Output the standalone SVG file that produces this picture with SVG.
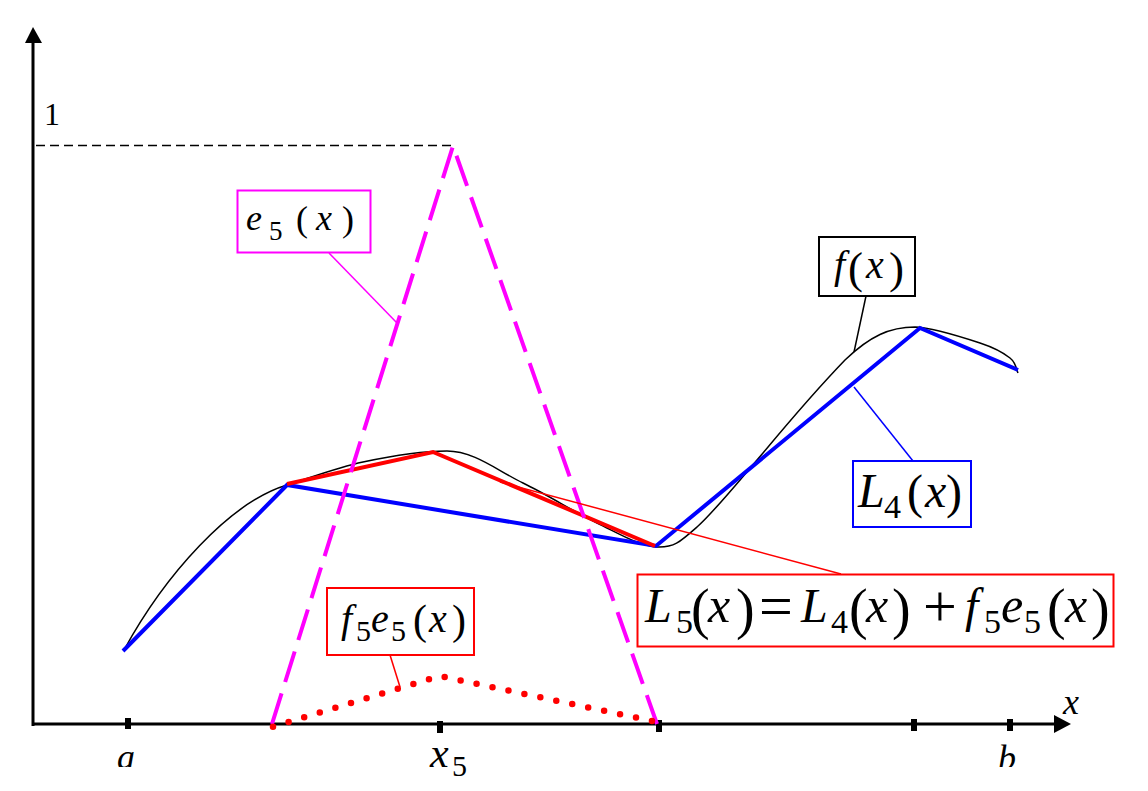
<svg xmlns="http://www.w3.org/2000/svg" width="1148" height="791" viewBox="0 0 1148 791">
<style>
.i{font-style:italic}
.box{fill:#fff;stroke-width:2}
.lead{fill:none;stroke-width:1.5}
.thick{fill:none;stroke-width:4;stroke-linejoin:miter}
</style>
<defs>
<clipPath id="clipAB"><rect x="0" y="0" width="1148" height="767"/></clipPath>
</defs>
<rect width="1148" height="791" fill="#fff"/>
<g font-family="Liberation Serif, Times New Roman, serif" fill="#000">
<g id="axes">
<line x1="33" y1="726" x2="33" y2="40" stroke="#000" stroke-width="3"/>
<polygon points="33,27 25,43 42,43" fill="#000"/>
<line x1="32" y1="724" x2="1058" y2="724" stroke="#000" stroke-width="3"/>
<polygon points="1071,724 1054,715 1054,733" fill="#000"/>
<rect x="125" y="718" width="6" height="11" fill="#000"/>
<rect x="437" y="721" width="6" height="12" fill="#000"/>
<rect x="656" y="720" width="6" height="12" fill="#000"/>
<rect x="911" y="719" width="6" height="12" fill="#000"/>
<rect x="1007" y="719" width="6" height="12" fill="#000"/>
<line x1="36" y1="145.5" x2="453" y2="145.5" stroke="#000" stroke-width="1.5" stroke-dasharray="9 5"/>
<text x="44" y="125" font-size="32">1</text>
<text class="i" x="117" y="769" font-size="36" clip-path="url(#clipAB)">a</text>
<text x="430" y="767" font-size="42"><tspan class="i">x</tspan><tspan x="452" y="776" font-size="30">5</tspan></text>
<text class="i" x="998" y="770" font-size="36" clip-path="url(#clipAB)">b</text>
<text class="i" x="1063" y="714" font-size="36">x</text>
</g>
<g id="f-curve">
<path d="M124,650 C165,575 230,502 287,485 C307,479 336.3,467.7 363,462 C389.7,456.3 420,451 447,451 C474,451 498,471 523,483 C548,495 574.7,512.3 597,523 C619.3,533.7 640.3,546.3 657,547 C673.7,547.7 679.3,542.7 697,527 C714.7,511.3 740.8,478.7 763,453 C783,429 818,388 845,360 C870,336 890,327 915,327 C931.7,327.5 964.2,337.8 980,343 C995.8,348.2 1003.7,353 1010,358 C1016.3,363 1016.7,370.5 1018,373" fill="none" stroke="#000" stroke-width="1.5"/>
</g>
<g id="L4-line">
<polyline class="thick" points="123,651 287,485 656,546 920,328 1018,370" stroke="#0000ff"/>
</g>
<g id="L5-line">
<polyline class="thick" points="287,484 433,452 655,546" stroke="#ff0000"/>
</g>
<g id="e5-line">
<polyline points="272,724 453,146 657,724" fill="none" stroke="#ff00ff" stroke-width="4" stroke-dasharray="32 12"/>
</g>
<g id="f5e5-line">
<polyline points="273,726.7 440,676 652,721" fill="none" stroke="#ff0000" stroke-width="6.5" stroke-linecap="round" stroke-dasharray="0 16.3"/>
</g>
<g id="connectors">
<line class="lead" x1="329" y1="253" x2="397" y2="323" stroke="#ff00ff"/>
<line class="lead" x1="866" y1="296" x2="854" y2="352" stroke="#000"/>
<line class="lead" x1="913" y1="461" x2="854" y2="387" stroke="#0000ff"/>
<line class="lead" x1="500" y1="482" x2="841" y2="574" stroke="#ff0000"/>
<line class="lead" x1="390" y1="655" x2="400" y2="687" stroke="#ff0000"/>
</g>
<g id="label-e5">
<rect class="box" x="237.5" y="190.5" width="133" height="62" stroke="#ff00ff"/>
<text font-size="36"><tspan class="i" x="246" y="230">e</tspan><tspan x="269" y="240" font-size="27">5</tspan><tspan x="296" y="231">(</tspan><tspan class="i" x="316" y="230">x</tspan><tspan x="342" y="231">)</tspan></text>
</g>
<g id="label-f">
<rect class="box" x="819" y="237" width="96" height="59" stroke="#000"/>
<text font-size="40"><tspan class="i" x="834" y="278">f</tspan><tspan x="848" y="283" font-size="45">(</tspan><tspan class="i" x="866" y="278">x</tspan><tspan x="889" y="283" font-size="45">)</tspan></text>
</g>
<g id="label-L4">
<rect class="box" x="853" y="461" width="118" height="66" stroke="#0000ff"/>
<text font-size="48"><tspan class="i" x="858" y="507">L</tspan><tspan x="884" y="518" font-size="34">4</tspan><tspan x="907" y="508">(</tspan><tspan class="i" x="925" y="507">x</tspan><tspan x="946" y="508">)</tspan></text>
</g>
<g id="label-L5">
<rect class="box" x="637.5" y="574.5" width="476" height="72" stroke="#ff0000"/>
<text font-size="48"><tspan class="i" x="645" y="622">L</tspan><tspan x="676" y="633" font-size="34">5</tspan><tspan x="691" y="628" font-size="56">(</tspan><tspan class="i" x="708" y="622" font-size="50">x</tspan><tspan x="736" y="628" font-size="56">)</tspan><tspan x="759" y="626" font-size="60">=</tspan><tspan class="i" x="801" y="622">L</tspan><tspan x="831" y="633" font-size="34">4</tspan><tspan x="849" y="628" font-size="56">(</tspan><tspan class="i" x="866" y="622" font-size="50">x</tspan><tspan x="892" y="628" font-size="56">)</tspan><tspan x="923" y="626" font-size="60">+</tspan><tspan class="i" x="965" y="622">f</tspan><tspan x="984" y="633" font-size="34">5</tspan><tspan class="i" x="1001" y="622" font-size="50">e</tspan><tspan x="1024" y="633" font-size="34">5</tspan><tspan x="1047" y="628" font-size="56">(</tspan><tspan class="i" x="1065" y="622" font-size="50">x</tspan><tspan x="1091" y="628" font-size="56">)</tspan></text>
</g>
<g id="label-f5e5">
<rect class="box" x="327" y="588" width="147" height="67" stroke="#ff0000"/>
<text font-size="40"><tspan class="i" x="341" y="632">f</tspan><tspan x="356" y="641" font-size="30">5</tspan><tspan class="i" x="371" y="632">e</tspan><tspan x="391" y="641" font-size="30">5</tspan><tspan x="413" y="634" font-size="42">(</tspan><tspan class="i" x="429" y="632">x</tspan><tspan x="452" y="634" font-size="42">)</tspan></text>
</g>
</g>
</svg>
